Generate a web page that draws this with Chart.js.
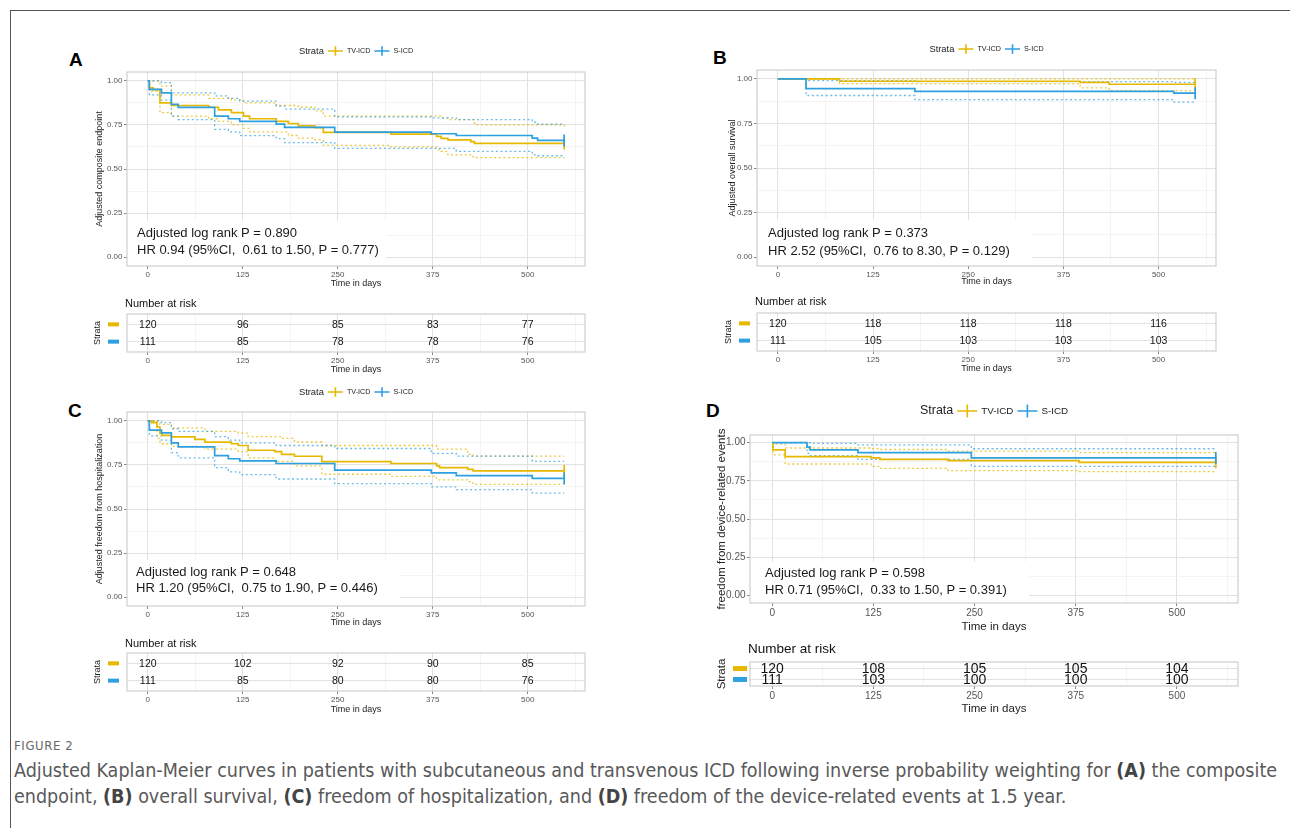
<!DOCTYPE html>
<html>
<head>
<meta charset="utf-8">
<script src="https://cdn.jsdelivr.net/npm/chart.js@4.4.1/dist/chart.umd.min.js"></script>
<style>
  body { margin: 0; background: #fff; width: 1290px; height: 828px; overflow: hidden; position: relative; font-family: "Liberation Sans", Arial, sans-serif; }
  #frame { position: absolute; left: 10px; top: 10px; width: 1300px; height: 830px; border: 1px solid #555; }
  canvas { position: absolute; }
  .lab { position: absolute; font-weight: bold; font-size: 19px; color: #000; line-height: 22px; }
  .cap { position: absolute; left: 14px; font-family: "DejaVu Sans Condensed", "Liberation Sans Narrow", sans-serif; color: #595959; white-space: nowrap; }
  #figno { top: 738px; font-size: 13px; letter-spacing: 0.6px; color: #666; }
  #captext { top: 758px; font-size: 18.5px; line-height: 26px; }
  #captext b { color: #444; }
</style>
</head>
<body>
<div id="frame"></div>
<div class="lab" style="left:69px;top:49px">A</div>
<div class="lab" style="left:713px;top:47px">B</div>
<div class="lab" style="left:68px;top:400px">C</div>
<div class="lab" style="left:706px;top:400px">D</div>
<canvas id="cA"></canvas><canvas id="tA"></canvas>
<canvas id="cB"></canvas><canvas id="tB"></canvas>
<canvas id="cC"></canvas><canvas id="tC"></canvas>
<canvas id="cD"></canvas><canvas id="tD"></canvas>
<div class="cap" id="figno">FIGURE 2</div>
<div class="cap" id="captext"><span id="capl1">Adjusted Kaplan-Meier curves in patients with subcutaneous and transvenous ICD following inverse probability weighting for <b>(A)</b> the composite</span><br>endpoint, <b>(B)</b> overall survival, <b>(C)</b> freedom of hospitalization, and <b>(D)</b> freedom of the device-related events at 1.5 year.</div>
<script>
// axis ticks
const X_TICKS = [0, 125, 250, 375, 500];
const Y_TICKS = [0, 0.25, 0.5, 0.75, 1];
const X_MIN = -27.4, X_MAX = 575.4;
const STRATA = ['TV-ICD', 'S-ICD'];

// A: composite endpoint  [day, survival]
const A_TV    = [[0,1],[2,0.96],[7,0.95],[16,0.875],[31,0.86],[80,0.85],[93,0.835],[110,0.82],[126,0.80],[134,0.785],[169,0.77],[185,0.758],[198,0.745],[220,0.735],[231,0.708],[320,0.698],[380,0.685],[386,0.674],[395,0.665],[425,0.655],[430,0.645],[548,0.645]];
const A_TV_UP = [[0,1],[16,0.97],[31,0.92],[80,0.90],[110,0.89],[126,0.875],[169,0.86],[198,0.85],[220,0.83],[231,0.80],[386,0.79],[395,0.78],[430,0.75],[548,0.735]];
const A_TV_LO = [[0,1],[2,0.94],[16,0.82],[31,0.80],[80,0.785],[93,0.77],[110,0.75],[126,0.73],[134,0.71],[185,0.69],[198,0.675],[220,0.665],[231,0.634],[320,0.625],[380,0.61],[386,0.60],[395,0.58],[425,0.57],[430,0.564],[548,0.564]];
const A_S     = [[0,1],[2,0.951],[18,0.932],[31,0.866],[40,0.849],[88,0.80],[106,0.785],[121,0.77],[169,0.755],[180,0.736],[246,0.709],[373,0.70],[406,0.69],[506,0.675],[513,0.662],[548,0.662]];
const A_S_UP  = [[0,1],[18,0.99],[31,0.932],[88,0.915],[106,0.90],[121,0.885],[169,0.857],[180,0.84],[246,0.796],[373,0.79],[406,0.78],[506,0.765],[513,0.755],[548,0.755]];
const A_S_LO  = [[0,1],[2,0.92],[18,0.89],[31,0.80],[40,0.78],[88,0.725],[106,0.71],[121,0.689],[169,0.672],[180,0.649],[246,0.617],[373,0.617],[406,0.60],[506,0.58],[513,0.575],[548,0.575]];

// B: overall survival
const B_TV    = [[0,1],[81,0.987],[397,0.98],[435,0.97],[548,0.97]];
const B_TV_UP = [[0,1],[548,1]];
const B_TV_LO = [[0,1],[81,0.974],[397,0.95],[435,0.934],[548,0.934]];
const B_S     = [[0,1],[37,0.945],[180,0.93],[520,0.92],[548,0.92]];
const B_S_UP  = [[0,1],[37,0.99],[180,0.985],[520,0.98],[548,0.98]];
const B_S_LO  = [[0,1],[37,0.907],[180,0.884],[520,0.87],[548,0.87]];

// C: freedom from hospitalization
const C_TV    = [[0,1],[5,0.99],[12,0.965],[16,0.928],[19,0.917],[31,0.909],[62,0.895],[75,0.879],[110,0.87],[119,0.86],[132,0.833],[167,0.825],[176,0.81],[193,0.799],[229,0.769],[320,0.758],[380,0.745],[384,0.735],[421,0.725],[428,0.716],[548,0.716]];
const C_TV_UP = [[0,1],[16,0.98],[31,0.96],[75,0.94],[119,0.93],[132,0.91],[176,0.90],[193,0.88],[229,0.86],[380,0.84],[421,0.81],[428,0.80],[548,0.80]];
const C_TV_LO = [[0,1],[12,0.90],[16,0.87],[31,0.855],[75,0.84],[119,0.825],[132,0.79],[167,0.77],[193,0.745],[229,0.697],[320,0.685],[380,0.665],[421,0.655],[428,0.64],[548,0.64]];
const C_S     = [[0,1],[2,0.947],[18,0.932],[31,0.875],[40,0.852],[88,0.803],[106,0.785],[121,0.773],[169,0.758],[246,0.72],[373,0.705],[406,0.689],[506,0.674],[548,0.674]];
const C_S_UP  = [[0,1],[18,0.99],[31,0.955],[40,0.94],[88,0.91],[106,0.89],[121,0.875],[169,0.86],[246,0.843],[373,0.815],[406,0.80],[506,0.77],[548,0.77]];
const C_S_LO  = [[0,1],[2,0.915],[18,0.89],[31,0.82],[40,0.79],[88,0.735],[106,0.71],[121,0.695],[169,0.67],[246,0.644],[373,0.625],[406,0.61],[506,0.59],[548,0.59]];

// D: freedom from device-related events
const D_TV    = [[0,1],[1,0.952],[16,0.908],[122,0.90],[133,0.891],[217,0.882],[379,0.871],[548,0.871]];
const D_TV_UP = [[0,1],[1,0.99],[16,0.965],[122,0.96],[133,0.955],[217,0.945],[379,0.935],[548,0.935]];
const D_TV_LO = [[0,1],[1,0.92],[16,0.86],[122,0.845],[133,0.832],[217,0.817],[379,0.81],[548,0.81]];
const D_S     = [[0,1],[43,0.97],[47,0.952],[106,0.935],[246,0.90],[548,0.90]];
const D_S_UP  = [[0,1],[43,1],[47,0.995],[106,0.985],[246,0.96],[548,0.96]];
const D_S_LO  = [[0,1],[43,0.93],[47,0.915],[106,0.89],[246,0.845],[548,0.845]];

// number at risk at X_TICKS
const A_RISK_TV = [120, 96, 85, 83, 77];
const A_RISK_S  = [111, 85, 78, 78, 76];
const B_RISK_TV = [120, 118, 118, 118, 116];
const B_RISK_S  = [111, 105, 103, 103, 103];
const C_RISK_TV = [120, 102, 92, 90, 85];
const C_RISK_S  = [111, 85, 80, 80, 76];
const D_RISK_TV = [120, 108, 105, 105, 104];
const D_RISK_S  = [111, 103, 100, 100, 100];

const TV_COL = '#E7B800', S_COL = '#2E9FDF';
const TV_CI = 'rgba(231,184,0,0.75)', S_CI = 'rgba(46,159,223,0.7)';

Chart.defaults.font.family = '"Liberation Sans", Arial, sans-serif';

// gridlines at ticks plus midpoints (ggplot minor breaks)
function withMinor(ticks, hi) {
  const step = ticks[1] - ticks[0];
  const out = [];
  ticks.forEach(t => { out.push(t); out.push(t + step / 2); });
  return out.filter(v => v <= hi);
}
const X_GRID = withMinor(X_TICKS, X_MAX);
const Y_GRID = withMinor(Y_TICKS, 1.05);

function place(cv, box) {
  const w = box[2] - box[0], h = box[3] - box[1];
  cv.width = w; cv.height = h;
  cv.style.left = box[0] + 'px'; cv.style.top = box[1] + 'px';
  cv.style.width = w + 'px'; cv.style.height = h + 'px';
}

const isMajor = (v, ticks) => ticks.some(t => Math.abs(t - v) < 1e-6);

function xScale(p, box, area, fs, titleY) {
  const lh = fs.title * 1.2;
  return {
    type: 'linear', min: X_MIN, max: X_MAX,
    afterFit: s => { s.height = box[3] - area[3]; },
    afterBuildTicks: s => { s.ticks = X_GRID.map(v => ({ value: v })); },
    ticks: {
      autoSkip: false, maxRotation: 0, padding: fs.tickPad, color: '#555', font: { size: fs.tick },
      callback: v => isMajor(v, X_TICKS) ? String(v) : ''
    },
    grid: {
      color: c => isMajor(c.tick.value, X_TICKS) ? '#e2e2e2' : '#efefef',
      lineWidth: c => isMajor(c.tick.value, X_TICKS) ? 1 : 0.7,
      tickLength: 3,
      tickColor: c => isMajor(c.tick.value, X_TICKS) ? '#888' : 'rgba(0,0,0,0)'
    },
    border: { display: false },
    title: { display: true, text: 'Time in days', color: '#222', font: { size: fs.title },
             padding: { top: 0, bottom: box[3] - titleY - lh / 2 } }
  };
}

function drawLegend(ctx, chart, p) {
  const a = chart.chartArea;
  const y = p.legendY - p.box[1];
  const fT = p.fs.legT + 'px "Liberation Sans", Arial, sans-serif';
  const fL = p.fs.legL + 'px "Liberation Sans", Arial, sans-serif';
  const sym = p.fs.legT * 1.6, gap = 4;
  ctx.font = fT; const wT = ctx.measureText('Strata').width;
  ctx.font = fL; const w1 = ctx.measureText(STRATA[0]).width, w2 = ctx.measureText(STRATA[1]).width;
  const total = wT + gap + sym + gap + w1 + gap + sym + gap + w2;
  let x = (a.left + a.right) / 2 - total / 2;
  ctx.textBaseline = 'middle'; ctx.textAlign = 'left'; ctx.fillStyle = '#222';
  ctx.font = fT; ctx.fillText('Strata', x, y); x += wT + gap;
  [[TV_COL, STRATA[0], w1], [S_COL, STRATA[1], w2]].forEach(([col, txt, w]) => {
    ctx.strokeStyle = col; ctx.lineWidth = 1.6;
    ctx.beginPath(); ctx.moveTo(x, y); ctx.lineTo(x + sym, y);
    ctx.moveTo(x + sym / 2, y - sym * 0.32); ctx.lineTo(x + sym / 2, y + sym * 0.32); ctx.stroke();
    x += sym + gap;
    ctx.fillStyle = '#222'; ctx.font = fL; ctx.fillText(txt, x, y); x += w + gap;
  });
}

function frame(ctx, a) {
  ctx.save(); ctx.strokeStyle = '#cfcfcf'; ctx.lineWidth = 1.2;
  ctx.strokeRect(a.left, a.top, a.right - a.left, a.bottom - a.top); ctx.restore();
}

function kmChart(p) {
  const cv = document.getElementById(p.id);
  place(cv, p.box);
  const box = p.box, area = p.area, fs = p.fs;
  const main = (d, col) => ({
    data: d.map(q => ({ x: q[0], y: q[1] })), borderColor: col, borderWidth: fs.lw, stepped: 'before',
    pointStyle: 'line', rotation: 90, pointBorderColor: col, pointBorderWidth: fs.lw,
    pointRadius: c => c.dataIndex === d.length - 1 ? fs.censor : 0
  });
  const ci = (d, col) => ({
    data: d.map(q => ({ x: q[0], y: q[1] })), borderColor: col, borderWidth: 1.3, stepped: 'before',
    borderDash: [2, 2.6], pointRadius: 0
  });
  const lhY = fs.title * 1.2;
  new Chart(cv, {
    type: 'line',
    data: { datasets: [main(p.s, S_COL), main(p.tv, TV_COL), ci(p.sUp, S_CI), ci(p.sLo, S_CI), ci(p.tvUp, TV_CI), ci(p.tvLo, TV_CI)] },
    options: {
      responsive: false, animation: false, events: [],
      layout: { padding: { left: 0, top: area[1] - box[1], right: box[2] - area[2], bottom: 0 } },
      plugins: { legend: { display: false }, tooltip: { enabled: false } },
      scales: {
        x: xScale(p, box, area, fs, p.xTitleY),
        y: {
          type: 'linear', min: -0.05, max: 1.05,
          afterFit: s => { s.width = area[0] - box[0]; },
          afterBuildTicks: s => { s.ticks = Y_GRID.map(v => ({ value: v })); },
          ticks: { autoSkip: false, padding: 1.5, color: '#555', font: { size: fs.tick },
                   callback: v => isMajor(v, Y_TICKS) ? v.toFixed(2) : '' },
          grid: {
            color: c => isMajor(c.tick.value, Y_TICKS) ? '#e2e2e2' : '#efefef',
            lineWidth: c => isMajor(c.tick.value, Y_TICKS) ? 1 : 0.7,
            tickLength: 3,
            tickColor: c => isMajor(c.tick.value, Y_TICKS) ? '#888' : 'rgba(0,0,0,0)'
          },
          border: { display: false },
          title: { display: true, text: p.yTitle, color: '#222', font: { size: fs.title },
                   padding: { top: p.yTitleX - box[0] - lhY / 2, bottom: 0 } }
        }
      }
    },
    plugins: [{
      id: 'km',
      beforeDatasetsDraw(chart) {
        const ctx = chart.ctx, a = chart.chartArea;
        ctx.save();
        ctx.fillStyle = '#fff';
        ctx.fillRect(a.left + 1, a.bottom - p.ann.boxH, p.ann.boxW, p.ann.boxH - 0.5);
        ctx.fillStyle = '#1a1a1a'; ctx.textAlign = 'left'; ctx.textBaseline = 'middle';
        ctx.font = fs.ann + 'px "Liberation Sans", Arial, sans-serif';
        ctx.fillText(p.ann.l1, a.left + p.ann.dx, a.bottom - p.ann.y1);
        ctx.fillText(p.ann.l2, a.left + p.ann.dx, a.bottom - p.ann.y2);
        ctx.restore();
      },
      afterDraw(chart) {
        const ctx = chart.ctx;
        frame(ctx, chart.chartArea);
        ctx.save(); drawLegend(ctx, chart, p); ctx.restore();
      }
    }]
  });
}

function riskChart(p) {
  const cv = document.getElementById(p.id);
  place(cv, p.box);
  const box = p.box, area = p.area, fs = p.fs;
  const row = (vals, r) => ({ data: X_TICKS.map((t, i) => ({ x: t, y: r, v: vals[i] })), showLine: false, pointRadius: 0 });
  const lhY = fs.title * 1.2;
  new Chart(cv, {
    type: 'scatter',
    data: { datasets: [row(p.tv, 1), row(p.s, 2)] },
    options: {
      responsive: false, animation: false, events: [],
      layout: { padding: { left: 0, top: area[1] - box[1], right: box[2] - area[2], bottom: 0 } },
      plugins: { legend: { display: false }, tooltip: { enabled: false } },
      scales: {
        x: xScale(p, box, area, fs, p.xTitleY),
        y: {
          type: 'linear', min: 0.4, max: 2.6, reverse: true,
          afterFit: s => { s.width = area[0] - box[0]; },
          afterBuildTicks: s => { s.ticks = [1, 2].map(v => ({ value: v })); },
          ticks: { callback: () => '' },
          grid: { color: '#e2e2e2', lineWidth: 1, drawTicks: false },
          border: { display: false },
          title: { display: true, text: 'Strata', color: '#222', font: { size: fs.title },
                   padding: { top: p.yTitleX - box[0] - lhY / 2, bottom: 0 } }
        }
      }
    },
    plugins: [{
      id: 'risk',
      afterDatasetsDraw(chart) {
        const ctx = chart.ctx, a = chart.chartArea;
        ctx.save();
        ctx.fillStyle = '#111'; ctx.textAlign = 'center'; ctx.textBaseline = 'middle';
        ctx.font = fs.num + 'px "Liberation Sans", Arial, sans-serif';
        chart.data.datasets.forEach((ds, di) => {
          chart.getDatasetMeta(di).data.forEach((pt, i) => ctx.fillText(String(ds.data[i].v), pt.x, pt.y + 0.5));
        });
        const ys = chart.scales.y;
        [[TV_COL, 1], [S_COL, 2]].forEach(([col, r]) => {
          ctx.fillStyle = col;
          ctx.fillRect(p.swX - box[0], ys.getPixelForValue(r) - fs.swH / 2, fs.swW, fs.swH);
        });
        ctx.fillStyle = '#111'; ctx.textAlign = 'left'; ctx.textBaseline = 'middle';
        ctx.font = fs.head + 'px "Liberation Sans", Arial, sans-serif';
        ctx.fillText('Number at risk', a.left - 2, p.headY - box[1]);
        frame(ctx, a);
        ctx.restore();
      }
    }]
  });
}

const smallFs = { tick: 8, tickPad: 1, title: 9, ann: 13, legT: 9.4, legL: 7.2, lw: 1.7, censor: 6 };
const bigFs   = { tick: 10, tickPad: 1, title: 11.5, ann: 13, legT: 12.5, legL: 9.8, lw: 1.7, censor: 6 };
const tabSmall = { tick: 8, tickPad: 1, title: 9, num: 10.5, head: 11, swW: 11, swH: 4 };
const tabBig   = { tick: 10, tickPad: 1, title: 11.5, num: 14, head: 13.5, swW: 14, swH: 5 };

kmChart({ id: 'cA', box: [60, 36, 600, 292], area: [127, 72, 585, 266], fs: smallFs,
  tv: A_TV, tvUp: A_TV_UP, tvLo: A_TV_LO, s: A_S, sUp: A_S_UP, sLo: A_S_LO,
  yTitle: 'Adjusted composite endpoint', yTitleX: 100, xTitleY: 284, legendY: 51,
  ann: { l1: 'Adjusted log rank P = 0.890', l2: 'HR 0.94 (95%CI,  0.61 to 1.50, P = 0.777)', dx: 10, y1: 33, y2: 16, boxW: 258, boxH: 45 } });
riskChart({ id: 'tA', box: [60, 294, 600, 376], area: [127, 314, 585, 352], fs: tabSmall,
  tv: A_RISK_TV, s: A_RISK_S, yTitleX: 98, xTitleY: 370, headY: 304, swX: 108 });

kmChart({ id: 'cB', box: [690, 36, 1230, 290], area: [757, 70, 1216, 266], fs: smallFs,
  tv: B_TV, tvUp: B_TV_UP, tvLo: B_TV_LO, s: B_S, sUp: B_S_UP, sLo: B_S_LO,
  yTitle: 'Adjusted overall survival', yTitleX: 733, xTitleY: 282, legendY: 49,
  ann: { l1: 'Adjusted log rank P = 0.373', l2: 'HR 2.52 (95%CI,  0.76 to 8.30, P = 0.129)', dx: 11, y1: 33, y2: 15, boxW: 274, boxH: 46 } });
riskChart({ id: 'tB', box: [690, 292, 1230, 375], area: [757, 313, 1216, 351], fs: tabSmall,
  tv: B_RISK_TV, s: B_RISK_S, yTitleX: 729, xTitleY: 369, headY: 302, swX: 739 });

kmChart({ id: 'cC', box: [60, 380, 600, 630], area: [127, 412, 585, 606], fs: smallFs,
  tv: C_TV, tvUp: C_TV_UP, tvLo: C_TV_LO, s: C_S, sUp: C_S_UP, sLo: C_S_LO,
  yTitle: 'Adjusted freedom from hospitalization', yTitleX: 100, xTitleY: 623, legendY: 392,
  ann: { l1: 'Adjusted log rank P = 0.648', l2: 'HR 1.20 (95%CI,  0.75 to 1.90, P = 0.446)', dx: 9, y1: 34, y2: 18, boxW: 272, boxH: 46 } });
riskChart({ id: 'tC', box: [60, 632, 600, 716], area: [127, 653, 585, 691], fs: tabSmall,
  tv: C_RISK_TV, s: C_RISK_S, yTitleX: 98, xTitleY: 710, headY: 644, swX: 108 });

kmChart({ id: 'cD', box: [690, 398, 1250, 634], area: [750, 435, 1238, 603], fs: bigFs,
  tv: D_TV, tvUp: D_TV_UP, tvLo: D_TV_LO, s: D_S, sUp: D_S_UP, sLo: D_S_LO,
  yTitle: 'freedom from device-related events', yTitleX: 722, xTitleY: 627, legendY: 411,
  ann: { l1: 'Adjusted log rank P = 0.598', l2: 'HR 0.71 (95%CI,  0.33 to 1.50, P = 0.391)', dx: 15, y1: 30, y2: 13, boxW: 278, boxH: 41 } });
riskChart({ id: 'tD', box: [690, 636, 1250, 716], area: [750, 662, 1238, 686], fs: tabBig,
  tv: D_RISK_TV, s: D_RISK_S, yTitleX: 722, xTitleY: 709, headY: 649, swX: 733 });

// caption: scale font so the first line spans the same width as the original
const cap = document.getElementById('captext');
const w1 = document.getElementById('capl1').getBoundingClientRect().width;
cap.style.fontSize = (18.5 * 1264 / w1).toFixed(2) + 'px';
</script>
</body>
</html>
